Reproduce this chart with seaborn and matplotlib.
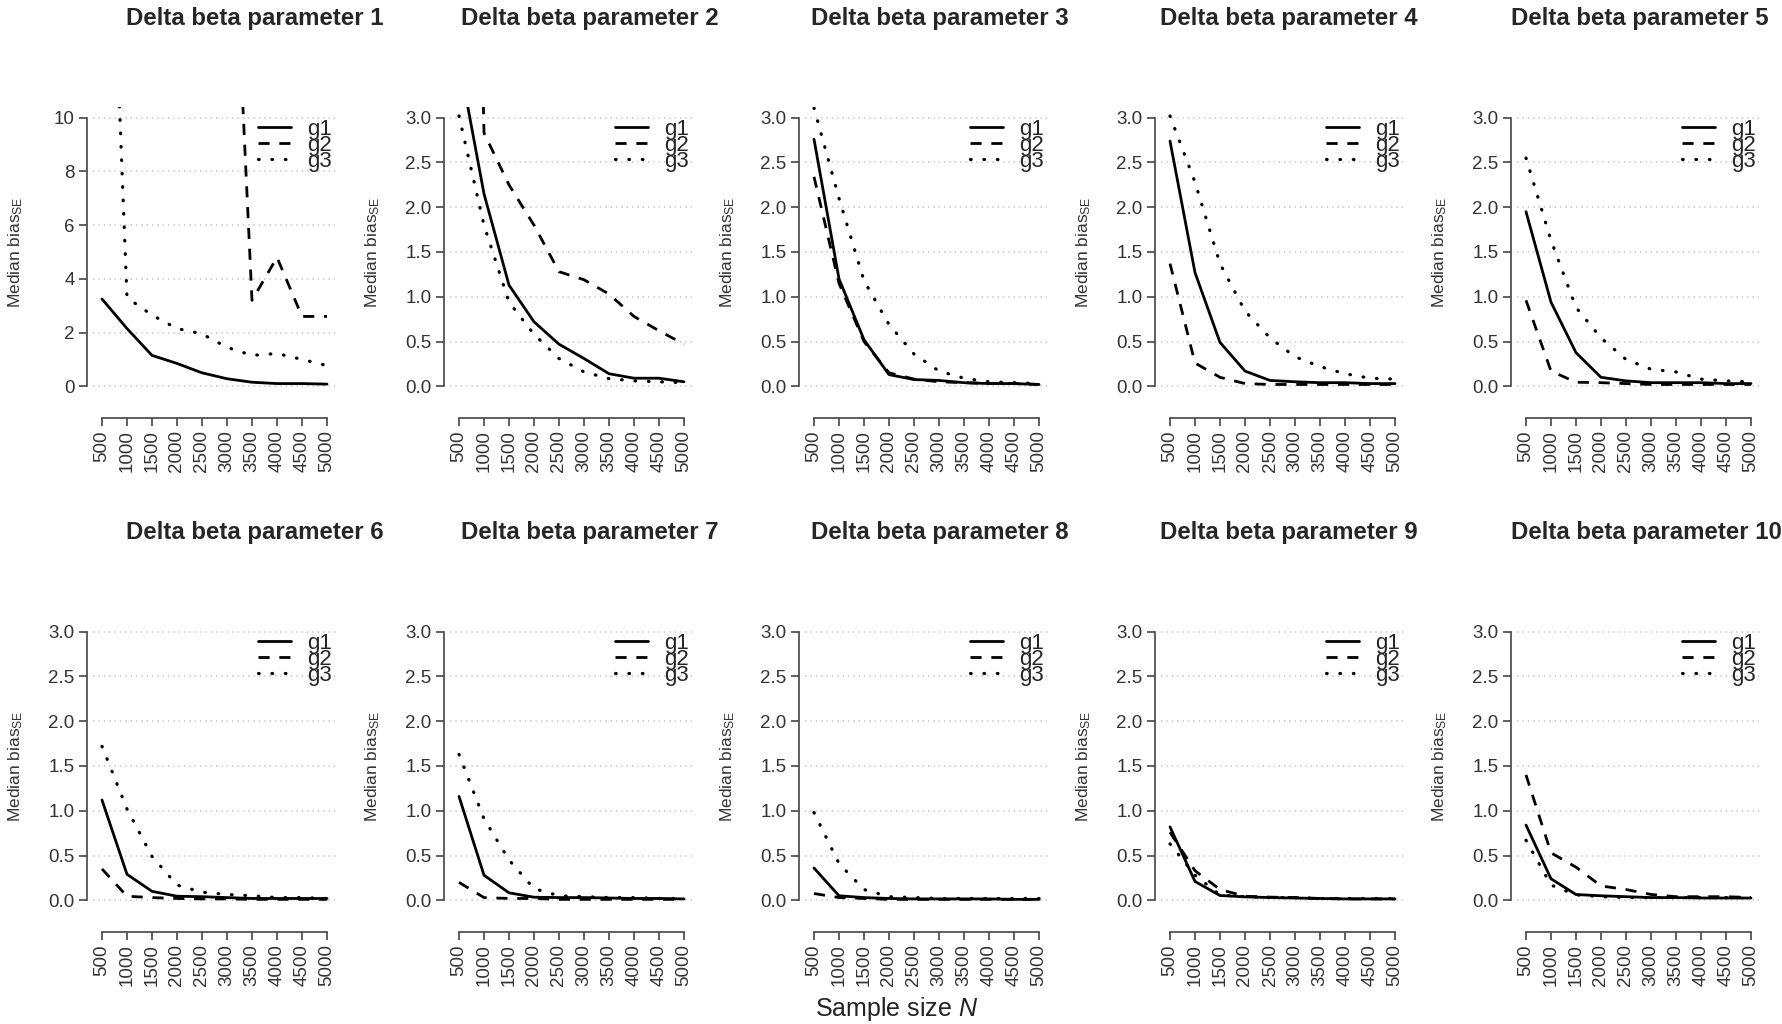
import numpy as np
import pandas as pd
import seaborn as sns
import matplotlib
matplotlib.use("Agg")
import matplotlib.pyplot as plt

sns.set_style("ticks")
plt.rcParams["font.family"] = ["Liberation Sans", "DejaVu Sans"]
plt.rcParams["mathtext.fontset"] = "custom"
plt.rcParams["mathtext.rm"] = "Liberation Sans"
plt.rcParams["mathtext.it"] = "Liberation Sans:italic"
plt.rcParams["mathtext.sf"] = "Liberation Sans"

# sample sizes on the x axis
N = [500, 1000, 1500, 2000, 2500, 3000, 3500, 4000, 4500, 5000]

titles = ["Delta beta parameter %d" % i for i in range(1, 11)]

# median SE bias per panel
g1_bias = [
    [3.25, 2.15, 1.15, 0.85, 0.5, 0.28, 0.15, 0.1, 0.1, 0.08],
    [3.65, 2.15, 1.13, 0.72, 0.47, 0.31, 0.14, 0.09, 0.09, 0.05],
    [2.76, 1.2, 0.52, 0.13, 0.075, 0.065, 0.04, 0.03, 0.03, 0.02],
    [2.74, 1.27, 0.49, 0.17, 0.065, 0.05, 0.04, 0.04, 0.03, 0.03],
    [1.95, 0.94, 0.375, 0.1, 0.06, 0.04, 0.04, 0.04, 0.03, 0.03],
    [1.12, 0.29, 0.1, 0.045, 0.04, 0.03, 0.02, 0.02, 0.02, 0.02],
    [1.16, 0.28, 0.083, 0.034, 0.03, 0.03, 0.025, 0.02, 0.02, 0.015],
    [0.36, 0.05, 0.03, 0.02, 0.015, 0.015, 0.015, 0.015, 0.01, 0.01],
    [0.82, 0.21, 0.053, 0.038, 0.03, 0.025, 0.02, 0.015, 0.015, 0.015],
    [0.84, 0.24, 0.064, 0.05, 0.04, 0.03, 0.03, 0.025, 0.025, 0.025],
]
g2_bias = [
    [80, 72, 60, 50, 38, 23, 3.2, 4.8, 2.6, 2.6],
    [15, 2.83, 2.25, 1.8, 1.28, 1.19, 1.03, 0.78, 0.62, 0.47],
    [2.34, 1.15, 0.5, 0.15, 0.08, 0.05, 0.04, 0.03, 0.03, 0.02],
    [1.37, 0.26, 0.1, 0.03, 0.02, 0.02, 0.02, 0.02, 0.02, 0.02],
    [0.96, 0.17, 0.045, 0.04, 0.03, 0.02, 0.02, 0.02, 0.02, 0.02],
    [0.35, 0.045, 0.03, 0.02, 0.015, 0.015, 0.01, 0.01, 0.01, 0.01],
    [0.2, 0.03, 0.02, 0.02, 0.01, 0.01, 0.01, 0.01, 0.01, 0.01],
    [0.075, 0.03, 0.02, 0.01, 0.01, 0.01, 0.01, 0.01, 0.01, 0.01],
    [0.76, 0.33, 0.12, 0.045, 0.035, 0.03, 0.02, 0.015, 0.015, 0.015],
    [1.4, 0.53, 0.37, 0.16, 0.12, 0.065, 0.04, 0.04, 0.04, 0.03],
]
g3_bias = [
    [27, 3.3, 2.65, 2.15, 1.95, 1.45, 1.15, 1.22, 1.0, 0.77],
    [3.02, 1.8, 0.94, 0.58, 0.31, 0.16, 0.085, 0.06, 0.05, 0.04],
    [3.11, 2.1, 1.18, 0.69, 0.36, 0.17, 0.09, 0.05, 0.04, 0.03],
    [3.02, 2.28, 1.37, 0.84, 0.54, 0.33, 0.22, 0.14, 0.09, 0.08],
    [2.55, 1.63, 0.88, 0.54, 0.3, 0.19, 0.16, 0.08, 0.06, 0.05],
    [1.72, 1.02, 0.49, 0.17, 0.09, 0.065, 0.05, 0.03, 0.03, 0.02],
    [1.63, 0.91, 0.45, 0.13, 0.05, 0.04, 0.03, 0.03, 0.02, 0.02],
    [0.98, 0.41, 0.12, 0.04, 0.03, 0.02, 0.02, 0.02, 0.02, 0.02],
    [0.63, 0.28, 0.06, 0.04, 0.03, 0.03, 0.02, 0.02, 0.02, 0.02],
    [0.67, 0.17, 0.06, 0.04, 0.03, 0.03, 0.03, 0.03, 0.03, 0.03],
]

groups = ["g1", "g2", "g3"]
dash_styles = {"g1": None, "g2": (4, 3.5), "g3": (0.2, 4.0)}
line_widths = {"g1": 2.0, "g2": 2.0, "g3": 2.3}

W, H = 1783, 1024
fig = plt.figure(figsize=(W / 100, H / 100), dpi=100)

# axes placement in pixels (left edges, top edges, size)
lefts = [93, 450, 805, 1161, 1517]
tops = [107, 621]
aw, ah = 243, 290
title_x = [126, 461, 811, 1160, 1511]
title_y = [19, 532]

for i in range(10):
    row, col = divmod(i, 5)
    ax = fig.add_axes([lefts[col] / W, 1 - (tops[row] + ah) / H, aw / W, ah / H])

    ymax = 10 if i == 0 else 3
    yticks = [0, 2, 4, 6, 8, 10] if i == 0 else [0, 0.5, 1.0, 1.5, 2.0, 2.5, 3.0]

    for y in yticks:
        ax.axhline(y, color="#c8c8c8", lw=1.1, ls=(0, (1, 2.5)), zorder=0)

    for g, vals in zip(groups, [g1_bias[i], g2_bias[i], g3_bias[i]]):
        df = pd.DataFrame({"N": N, "bias": vals})
        sns.lineplot(data=df, x="N", y="bias", ax=ax, color="black",
                     lw=line_widths[g], label=g, legend=False)
        line = ax.lines[-1]
        if dash_styles[g] is not None:
            line.set_dashes(dash_styles[g])
            line.set_dash_capstyle("round" if g == "g3" else "butt")

    ax.set_xlim(320, 5180)
    ax.set_ylim(-0.04 * ymax, 1.04 * ymax)

    for s in ["top", "right"]:
        ax.spines[s].set_visible(False)
    ax.spines["left"].set_position(("outward", 4.3))
    ax.spines["bottom"].set_position(("outward", 15))
    ax.spines["left"].set_bounds(0, ymax)
    ax.spines["bottom"].set_bounds(500, 5000)
    for s in ["left", "bottom"]:
        ax.spines[s].set_color("#444444")
        ax.spines[s].set_linewidth(1.2)

    ax.set_xticks(N)
    ax.set_xticklabels([str(n) for n in N])
    ax.set_yticks(yticks)
    if i == 0:
        ax.set_yticklabels([str(y) for y in yticks])
    else:
        ax.set_yticklabels(["%.1f" % y for y in yticks])
    ax.tick_params(axis="both", length=6, width=1.2, color="#444444",
                   labelsize=13.5, labelcolor="#333333", pad=3)
    ax.tick_params(axis="x", labelrotation=90)

    ax.set_xlabel("")
    ax.set_ylabel(r"Median bias$_{\mathsf{SE}}$", fontsize=12.5, color="#333333")
    ax.yaxis.set_label_coords(-0.28, 0.5)

    ax.legend(loc="upper right", bbox_to_anchor=(1.0, 0.975), frameon=False,
              fontsize=16, labelspacing=-0.22, handlelength=1.5,
              handletextpad=0.7, borderaxespad=0, borderpad=0.2)

    fig.text(title_x[col] / W, 1 - title_y[row] / H, titles[i], ha="left",
             va="center", fontsize=17.3, fontweight="bold")

fig.text(897 / W, 1 - 1016 / H, r"Sample size $N$", ha="center", va="baseline",
         fontsize=18, color="#222222")

fig.savefig("out.png", dpi=100)
